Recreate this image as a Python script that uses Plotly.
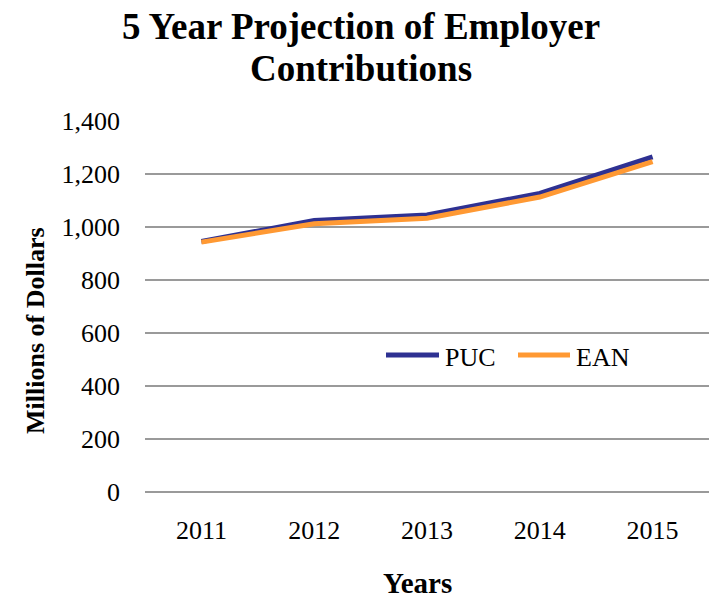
import plotly.graph_objects as go

years = ["2011", "2012", "2013", "2014", "2015"]
puc = [945, 1025, 1045, 1127, 1265]
ean = [943, 1012, 1033, 1113, 1247]
y_ticks = [0, 200, 400, 600, 800, 1000, 1200, 1400]

FONT = "Liberation Serif, Times New Roman, serif"
PUC_COLOR = "#2E3192"
EAN_COLOR = "#FF9933"

W, H = 717, 600
L, R, T, B = 145, 8, 121, 108
PW, PH = W - L - R, H - T - B


def px(x):
    """pixel x -> paper x"""
    return (x - L) / PW


def py(y):
    """pixel y -> paper y"""
    return (H - B - y) / PH


fig = go.Figure()
fig.add_trace(go.Scatter(x=years, y=puc, name="PUC", mode="lines",
                         line=dict(color=PUC_COLOR, width=5)))
fig.add_trace(go.Scatter(x=years, y=ean, name="EAN", mode="lines",
                         line=dict(color=EAN_COLOR, width=5)))

annotations = [
    dict(text="<b>5 Year Projection of Employer</b>", x=px(361), y=py(26),
         font=dict(size=37)),
    dict(text="<b>Contributions</b>", x=px(361), y=py(68), font=dict(size=37)),
    dict(text="<b>Years</b>", x=px(417), y=py(583), font=dict(size=29)),
    dict(text="<b>Millions of Dollars</b>", x=px(35), y=py(331), textangle=-90,
         font=dict(size=26)),
    dict(text="PUC", x=px(443), y=py(357), xanchor="left", font=dict(size=26)),
    dict(text="EAN", x=px(574), y=py(357), xanchor="left", font=dict(size=26)),
]
for a in annotations:
    a.setdefault("xanchor", "center")
    a.update(xref="paper", yref="paper", yanchor="middle", showarrow=False)

# legend keys
shapes = [
    dict(type="line", xref="paper", yref="paper", x0=px(386), x1=px(439),
         y0=py(355), y1=py(355), line=dict(color=PUC_COLOR, width=5)),
    dict(type="line", xref="paper", yref="paper", x0=px(518), x1=px(570),
         y0=py(355), y1=py(355), line=dict(color=EAN_COLOR, width=5)),
]

fig.update_layout(
    width=W, height=H,
    margin=dict(l=L, r=R, t=T, b=B),
    paper_bgcolor="white", plot_bgcolor="white",
    font=dict(family=FONT, color="black", size=26),
    showlegend=False,
    annotations=annotations,
    shapes=shapes,
    xaxis=dict(
        showgrid=False, showline=False, zeroline=False, ticks="",
        tickfont=dict(size=26), range=[-0.5, 4.5], ticklabelstandoff=20,
    ),
    yaxis=dict(
        range=[0, 1400], tickvals=y_ticks, tickformat=",d",
        showgrid=True, gridcolor="#9a9a9a", gridwidth=1.5,
        zeroline=True, zerolinecolor="#9a9a9a", zerolinewidth=1.5,
        showline=False, ticks="", ticklabelstandoff=24,
        tickfont=dict(size=26),
    ),
)

fig.write_html("out.html")
